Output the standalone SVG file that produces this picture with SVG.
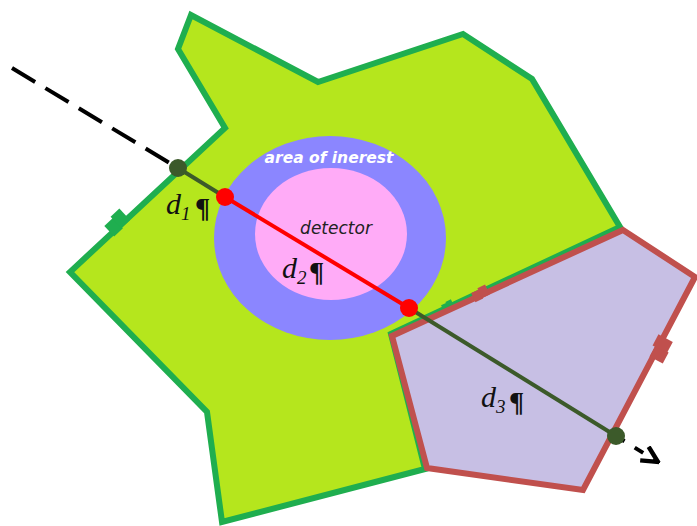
<svg xmlns="http://www.w3.org/2000/svg" width="697" height="526" viewBox="0 0 697 526">
<style>
.reg{fill:#b5e61d;stroke:#1fae4f;stroke-width:6;stroke-linejoin:miter}
.sub{fill:#c7bfe4;stroke:#c0504d;stroke-width:6;stroke-linejoin:miter}
.dash{stroke:#000;stroke-width:4;fill:none;stroke-dasharray:27,12}
.seg{stroke:#3c5a2a;stroke-width:4;fill:none}
.hit{stroke:#ff0000;stroke-width:4;fill:none}
.lbl{font-family:"Liberation Serif",serif;font-style:italic;font-size:30px;fill:#111}
.pil{font-family:"Liberation Serif",serif;font-weight:bold;font-size:28px;fill:#111}
.sb{font-size:19px}
</style>
<defs>
<marker id="ah" viewBox="0 0 10 10" refX="9" refY="5" markerWidth="5" markerHeight="5" orient="auto">
<path d="M1,1 L9,5 L1,9" fill="none" stroke="#000" stroke-width="2.2"/>
</marker>
<g id="tk">
<rect x="-10" y="-6" width="10" height="12"/>
<rect x="-1" y="-8" width="10" height="13"/>
</g>
</defs>
<g id="region">
<polygon class="reg" points="191,15 178,49 225,128 70,272 207,412 222,522 425,469 391,334 620,227 532,79 463,34 318,82"/>
<use href="#tk" fill="#1fae4f" transform="translate(118,223) rotate(-43) scale(1.2)"/>
<use href="#tk" fill="#1fae4f" transform="translate(448,306) rotate(-25) scale(0.6)"/>
</g>
<g id="area">
<ellipse cx="330" cy="238" rx="116" ry="102" fill="#8b86ff"/>
<ellipse cx="331" cy="234" rx="76" ry="66" fill="#ffabf7"/>
<text x="329" y="163" text-anchor="middle" font-family="'DejaVu Sans',sans-serif" font-style="italic" font-weight="bold" font-size="15.5" fill="#fff">area of inerest</text>
<text x="336" y="234" text-anchor="middle" font-family="'DejaVu Sans',sans-serif" font-style="italic" font-size="17" fill="#222">detector</text>
</g>
<g id="subregion">
<polygon class="sub" points="623,230 695,277 583,490 427,468 392,336"/>
<use href="#tk" fill="#c0504d" transform="translate(662,349) rotate(-62) scale(1.25)"/>
<use href="#tk" fill="#c0504d" transform="translate(481,294) rotate(-25) scale(0.85)"/>
</g>
<g id="connectors">
<line class="dash" x1="12" y1="68" x2="178" y2="168"/>
<line class="seg" x1="178" y1="168" x2="225" y2="197"/>
<line class="hit" x1="225" y1="197" x2="409" y2="308"/>
<line class="seg" x1="409" y1="308" x2="616" y2="436"/>
<path d="M616,436 L658,462" stroke="#000" stroke-width="4" fill="none" stroke-dasharray="10,12" marker-end="url(#ah)"/>
</g>
<g id="points">
<circle cx="178" cy="168" r="9" fill="#3c5a2a"/>
<circle cx="225" cy="197" r="9" fill="#ff0000"/>
<circle cx="409" cy="308" r="9" fill="#ff0000"/>
<circle cx="616" cy="436" r="9" fill="#3c5a2a"/>
</g>
<g id="labels">
<text class="lbl" x="166" y="214">d<tspan class="sb" dy="6">1</tspan></text>
<text class="pil" x="195" y="217">¶</text>
<text class="lbl" x="282" y="278">d<tspan class="sb" dy="6">2</tspan></text>
<text class="pil" x="309" y="281">¶</text>
<text class="lbl" x="481" y="407">d<tspan class="sb" dy="6">3</tspan></text>
<text class="pil" x="509" y="411">¶</text>
</g>
</svg>
